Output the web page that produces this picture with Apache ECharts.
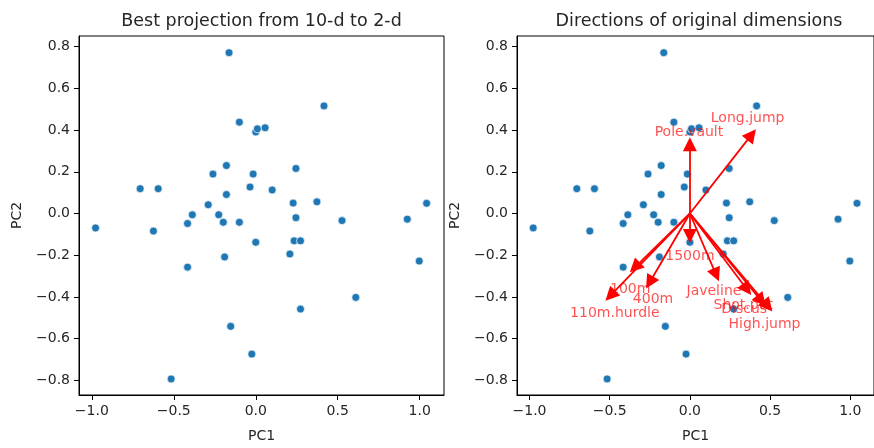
<!DOCTYPE html>
<html>
<head>
<meta charset="utf-8">
<script src="https://cdn.jsdelivr.net/npm/echarts@6/dist/echarts.min.js"></script>
<style>
html,body{margin:0;padding:0;background:#fff;}
#chart{width:874px;height:448px;}
</style>
</head>
<body>
<div id="chart"></div>
<script>
// PCA scores (PC1, PC2) for each athlete
const pc1 = [-0.163, 0.416, -0.100, 0.000, 0.010, 0.057, -0.179, -0.261, -0.016, 0.245,
  -0.705, -0.595, -0.035, 0.100, -0.179, -0.290, 0.228, 0.373, 1.042, -0.387,
  -0.226, -0.416, -0.198, -0.100, 0.245, 0.526, 0.924, -0.977, -0.624, 0.000,
  0.234, 0.273, 0.208, -0.190, -0.416, 0.997, 0.610, 0.273, -0.153, -0.024, -0.516];
const pc2 = [0.771, 0.516, 0.438, 0.391, 0.406, 0.411, 0.230, 0.189, 0.189, 0.216,
  0.119, 0.119, 0.127, 0.113, 0.091, 0.042, 0.050, 0.056, 0.049, -0.006,
  -0.006, -0.048, -0.042, -0.042, -0.020, -0.034, -0.027, -0.069, -0.084, -0.138,
  -0.131, -0.131, -0.194, -0.208, -0.257, -0.228, -0.402, -0.458, -0.541, -0.674, -0.793];

// Directions of original dimensions (arrow ends, head drawn beyond) and label positions
const dimNames = ['100m', 'Long.jump', 'Shot.put', 'High.jump', '400m', '110m.hurdle', 'Discus', 'Pole.vault', 'Javeline', '1500m'];
const arrowX = [-0.343, 0.385, 0.356, 0.486, -0.251, -0.496, 0.446, 0.000, 0.164, 0.000];
const arrowY = [-0.258, 0.378, -0.364, -0.444, -0.331, -0.394, -0.419, 0.332, -0.294, -0.108];
const labelX = [-0.372, 0.360, 0.333, 0.465, -0.230, -0.468, 0.339, -0.006, 0.150, 0.000];
const labelY = [-0.365, 0.454, -0.438, -0.529, -0.412, -0.479, -0.459, 0.391, -0.373, -0.205];

// Tick values
const xTicks = [-1.0, -0.5, 0.0, 0.5, 1.0];
const yTicks = [-0.8, -0.6, -0.4, -0.2, 0.0, 0.2, 0.4, 0.6, 0.8];

const FONT = 'DejaVu Sans';
const TXT = '#262626';
const fmt = v => {
  const s = (Math.round(v * 10) / 10).toFixed(1);
  return s.startsWith('-') ? '\u2212' + s.slice(1) : s;
};

const points = pc1.map((x, i) => [x, pc2[i]]);
const arrows = arrowX.map((x, i) => ({ coords: [[0, 0], [x, arrowY[i]]] }));
const labels = labelX.map((x, i) => ({ value: [x, labelY[i]], name: dimNames[i] }));

function makeX(gi) {
  return {
    type: 'value', gridIndex: gi, min: -1.078, max: 1.148,
    name: 'PC1', nameLocation: 'middle', nameGap: 34,
    nameTextStyle: { fontFamily: FONT, fontSize: 14, color: TXT },
    splitLine: { show: false },
    axisLine: { show: true, onZero: false, lineStyle: { color: '#000', width: 1 } },
    axisTick: { show: true, length: 5, inside: false, customValues: xTicks, lineStyle: { color: '#000', width: 1 } },
    axisLabel: { show: true, margin: 9, customValues: xTicks, formatter: fmt, fontFamily: FONT, fontSize: 14, color: TXT }
  };
}
function makeY(gi) {
  return {
    type: 'value', gridIndex: gi, min: -0.870, max: 0.851,
    name: 'PC2', nameLocation: 'middle', nameGap: 55, nameRotate: 90,
    nameTextStyle: { fontFamily: FONT, fontSize: 14, color: TXT },
    splitLine: { show: false },
    axisLine: { show: true, onZero: false, lineStyle: { color: '#000', width: 1 } },
    axisTick: { show: true, length: 5, inside: false, customValues: yTicks, lineStyle: { color: '#000', width: 1 } },
    axisLabel: { show: true, margin: 9, customValues: yTicks, formatter: fmt, fontFamily: FONT, fontSize: 14, color: TXT }
  };
}

const scatterStyle = {
  symbol: 'circle', symbolSize: 8,
  itemStyle: { color: '#1f77b4', borderColor: '#ffffff', borderWidth: 0.7, opacity: 1 }
};

const chart = echarts.init(document.getElementById('chart'), null, { renderer: 'canvas' });
chart.setOption({
  animation: false,
  backgroundColor: '#ffffff',
  title: [
    { text: 'Best projection from 10-d to 2-d', left: 261.5, top: 12, padding: 0, textAlign: 'center',
      textStyle: { fontFamily: FONT, fontSize: 17.5, fontWeight: 'normal', color: TXT } },
    { text: 'Directions of original dimensions', left: 699, top: 12, padding: 0, textAlign: 'center',
      textStyle: { fontFamily: FONT, fontSize: 17.5, fontWeight: 'normal', color: TXT } }
  ],
  grid: [
    { left: 79, top: 36, width: 365, height: 367, show: true, borderColor: '#000', borderWidth: 1, backgroundColor: 'transparent' },
    { left: 517, top: 36, width: 365, height: 367, show: true, borderColor: '#000', borderWidth: 1, backgroundColor: 'transparent' }
  ],
  xAxis: [makeX(0), makeX(1)],
  yAxis: [makeY(0), makeY(1)],
  series: [
    Object.assign({ type: 'scatter', xAxisIndex: 0, yAxisIndex: 0, data: points, z: 2 }, scatterStyle),
    Object.assign({ type: 'scatter', xAxisIndex: 1, yAxisIndex: 1, data: points, z: 2 }, scatterStyle),
    {
      type: 'lines', coordinateSystem: 'cartesian2d', xAxisIndex: 1, yAxisIndex: 1, z: 3,
      symbol: ['none', 'triangle'], symbolSize: [8, 14],
      lineStyle: { color: '#ff0000', width: 1.8, opacity: 1, curveness: 0 },
      data: arrows
    },
    {
      type: 'scatter', xAxisIndex: 1, yAxisIndex: 1, z: 4, symbolSize: 0,
      data: labels,
      label: { show: true, position: 'inside', formatter: p => p.name,
        fontFamily: FONT, fontSize: 14, color: 'rgba(255,0,0,0.85)' }
    }
  ]
});
</script>
</body>
</html>
